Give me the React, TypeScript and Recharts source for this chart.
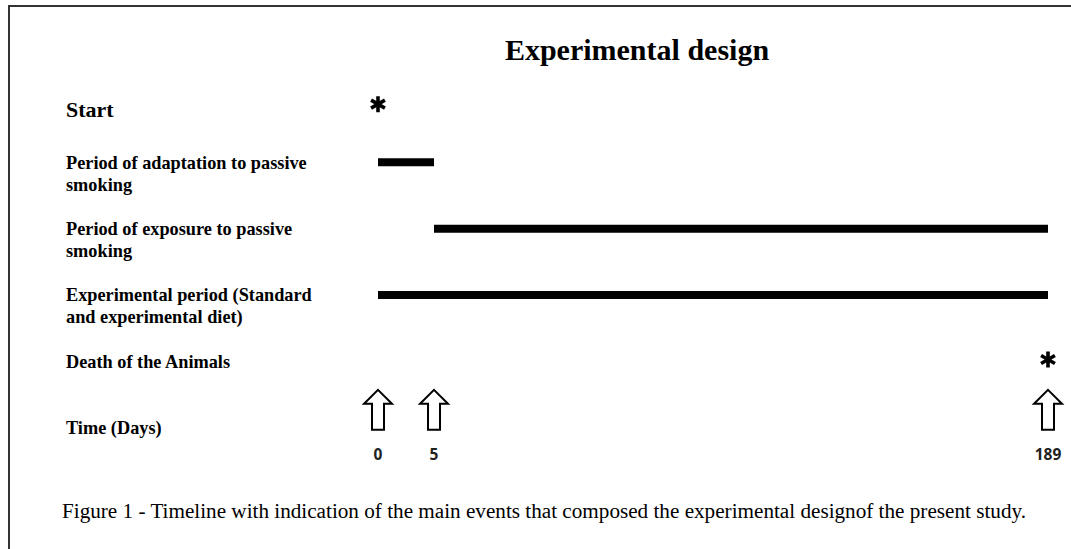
import React from "react";
import { ComposedChart, Bar, XAxis, YAxis, ReferenceDot } from "recharts";

// ---- data ----
const rowIds = ["start", "adaptation", "exposure", "experimental", "death", "time"];
const rowLabelLines: string[][] = [
  ["Start"],
  ["Period of adaptation to passive", "smoking"],
  ["Period of exposure to passive", "smoking"],
  ["Experimental period (Standard", "and experimental diet)"],
  ["Death of the Animals"],
  ["Time (Days)"],
];
const periodRows = ["adaptation", "exposure", "experimental"];
const periodStartDays = [0, 5, 0];
const periodEndDays = [5, 189, 189];
const eventRows = ["start", "death"];
const eventDays = [0, 189];
const timeTicks = [0, 5, 189];

const TITLE = "Experimental design";
const CAPTION =
  "Figure 1 - Timeline with indication of the main events that composed the experimental designof the present study.";

// chart table built from the arrays
const data = rowIds.map((id) => {
  const i = periodRows.indexOf(id);
  return { row: id, span: i >= 0 ? [periodStartDays[i], periodEndDays[i]] : null };
});

// Schematic (non-proportional) timeline scale: piecewise linear between milestone days
const milestoneFractions = [0, 0.0836, 1];
function makeTimelineScale(stops: number[], fracs: number[]): any {
  let dom: number[] = [stops[0], stops[stops.length - 1]];
  let rng: number[] = [0, 1];
  const scale: any = (v: number) => {
    const r0 = rng[0];
    const r1 = rng[rng.length - 1];
    let i = 0;
    while (i < stops.length - 2 && v > stops[i + 1]) i++;
    const t = (v - stops[i]) / (stops[i + 1] - stops[i]);
    const f = fracs[i] + t * (fracs[i + 1] - fracs[i]);
    return r0 + f * (r1 - r0);
  };
  scale.domain = (d?: number[]) => {
    if (d === undefined) return dom.slice();
    dom = d.slice();
    return scale;
  };
  scale.range = (r?: number[]) => {
    if (r === undefined) return rng.slice();
    rng = r.slice();
    return scale;
  };
  scale.copy = () => {
    const s = makeTimelineScale(stops, fracs);
    s.domain(dom);
    s.range(rng);
    return s;
  };
  scale.ticks = () => stops.slice();
  scale.tickFormat = () => (v: number) => String(v);
  return scale;
}
const timelineScale = makeTimelineScale(timeTicks, milestoneFractions);

const SERIF = "'Liberation Serif', 'Times New Roman', serif";
const SANS = "'Open Sans', 'DejaVu Sans', sans-serif";

const RowTick = (props: any) => {
  const { y, payload } = props;
  const idx = rowIds.indexOf(payload.value);
  const lines = rowLabelLines[idx] || [];
  const isStart = payload.value === "start";
  return (
    <text
      x={66}
      y={y + (isStart ? 13 : 0)}
      fontFamily={SERIF}
      fontWeight="bold"
      fontSize={isStart ? 22 : 18.3}
      fill="#000"
      dominantBaseline="central"
      textAnchor="start"
    >
      {lines.map((l, k) => (
        <tspan key={k} x={66} dy={k === 0 ? 0 : 22}>
          {l}
        </tspan>
      ))}
    </text>
  );
};

const DayTick = (props: any) => {
  const { x, y, payload } = props;
  return (
    <text
      x={x}
      y={y - 15}
      fontFamily={SANS}
      fontWeight="bold"
      fontSize={15.5}
      fill="#222"
      textAnchor="middle"
      dominantBaseline="central"
    >
      {payload.value}
    </text>
  );
};

const makeAsterisk = (dy: number) => (props: any) => {
  const { cx, cy } = props;
  const c = cy + dy;
  const L = 8;
  const arms = [90, 30, 150].map((a) => {
    const r = (a * Math.PI) / 180;
    return `M${cx - L * Math.cos(r)},${c - L * Math.sin(r)}L${cx + L * Math.cos(r)},${c + L * Math.sin(r)}`;
  });
  return <path d={arms.join("")} stroke="#000" strokeWidth={3.6} fill="none" />;
};

const ArrowShape = (props: any) => {
  const { cx, cy } = props;
  const tip = cy - 38;
  const wing = cy - 24;
  const bottom = cy + 2;
  const d = `M${cx},${tip}L${cx + 14},${wing}L${cx + 6},${wing}L${cx + 6},${bottom}L${cx - 6},${bottom}L${cx - 6},${wing}L${cx - 14},${wing}Z`;
  return <path d={d} fill="#fff" stroke="#000" strokeWidth={2} strokeLinejoin="miter" />;
};

export default function App() {
  return (
    <div style={{ position: "absolute", left: 0, top: 0, width: 1071, height: 549, background: "#fff" }}>
      <ComposedChart
        width={1071}
        height={549}
        data={data}
        layout="vertical"
        margin={{ top: 63, right: 23, bottom: 58, left: 0 }}
      >
        <XAxis
          type="number"
          dataKey="span"
          domain={[timeTicks[0], timeTicks[timeTicks.length - 1]]}
          scale={timelineScale}
          ticks={timeTicks}
          interval={0}
          axisLine={false}
          tickLine={false}
          height={30}
          tick={<DayTick />}
        />
        <YAxis
          type="category"
          dataKey="row"
          width={378}
          interval={0}
          axisLine={false}
          tickLine={false}
          tick={<RowTick />}
        />
        <Bar dataKey="span" barSize={8} fill="#000" isAnimationActive={false} />
        {eventRows.map((r, i) => (
          <ReferenceDot
            key={"ev" + i}
            x={eventDays[i]}
            y={r}
            ifOverflow="visible"
            shape={makeAsterisk(r === "start" ? 8 : -2)}
          />
        ))}
        {timeTicks.map((d, i) => (
          <ReferenceDot key={"ar" + i} x={d} y="time" ifOverflow="visible" shape={ArrowShape} />
        ))}
      </ComposedChart>
      <svg
        width={1071}
        height={549}
        style={{ position: "absolute", left: 0, top: 0, pointerEvents: "none" }}
      >
        <line x1={9} y1={6} x2={1071} y2={6} stroke="#333" strokeWidth={2} />
        <line x1={9} y1={5} x2={9} y2={549} stroke="#333" strokeWidth={2} />
        <text x={637} y={60} textAnchor="middle" fontFamily={SERIF} fontWeight="bold" fontSize={30} fill="#000">
          {TITLE}
        </text>
        <text
          x={62}
          y={518}
          fontFamily={SERIF}
          fontSize={20}
          fill="#000"
          textLength={964}
          lengthAdjust="spacingAndGlyphs"
        >
          {CAPTION}
        </text>
      </svg>
    </div>
  );
}
